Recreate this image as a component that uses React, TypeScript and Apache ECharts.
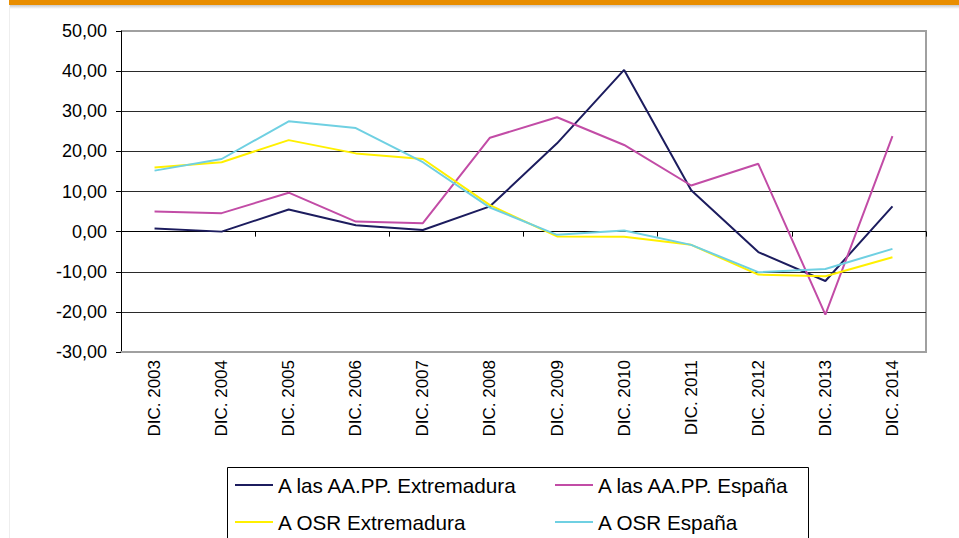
import React, { useEffect, useRef } from "react";
import * as echarts from "echarts";

const categories = [
  "DIC. 2003", "DIC. 2004", "DIC. 2005", "DIC. 2006", "DIC. 2007", "DIC. 2008",
  "DIC. 2009", "DIC. 2010", "DIC. 2011", "DIC. 2012", "DIC. 2013", "DIC. 2014",
];
const apExtremadura = [0.8, 0.0, 5.5, 1.6, 0.4, 6.3, 22.0, 40.3, 10.3, -5.1, -12.3, 6.3];
const apEspana = [5.0, 4.6, 9.7, 2.5, 2.1, 23.4, 28.5, 21.6, 11.5, 16.9, -20.7, 23.8];
const osrExtremadura = [16.0, 17.3, 22.8, 19.5, 18.1, 6.6, -1.2, -1.3, -3.3, -10.7, -11.1, -6.4];
const osrEspana = [15.2, 18.1, 27.5, 25.8, 17.3, 6.0, -0.8, 0.3, -3.3, -10.1, -9.3, -4.3];

const seriesNames = [
  "A las AA.PP. Extremadura",
  "A las AA.PP. España",
  "A OSR Extremadura",
  "A OSR España",
];
const seriesColors = ["#1c1c5e", "#c24ca6", "#fff000", "#6fd0e2"];
const seriesData = [apExtremadura, apEspana, osrExtremadura, osrEspana];

const FONT = "'Liberation Sans', Arial, sans-serif";

export default function App() {
  const ref = useRef<HTMLDivElement>(null);
  useEffect(() => {
    if (!ref.current) return;
    const chart = echarts.init(ref.current, null, { renderer: "svg" });
    const gridLeft = 121, gridTop = 31, gridRight = 33, gridBottom = 186;
    const W = 959, H = 538;
    const x0 = gridLeft, x1 = W - gridRight, y0 = gridTop, y1 = H - gridBottom;
    const splitColors = ["#a0a0a0", "#2a2a2a", "#2a2a2a", "#2a2a2a", "#2a2a2a", "#2a2a2a", "#2a2a2a", "#2a2a2a", "#a0a0a0"];
    const legendCommon = {
      orient: "vertical" as const,
      top: 474,
      itemGap: 15,
      itemWidth: 38,
      itemHeight: 2,
      icon: "rect",
      padding: 0,
      textStyle: { fontFamily: FONT, fontSize: 20.7, color: "#000", lineHeight: 22 },
    };
    chart.setOption({
      animation: false,
      backgroundColor: "#ffffff",
      grid: { left: gridLeft, top: gridTop, right: gridRight, bottom: gridBottom, containLabel: false },
      xAxis: [
        {
          type: "category",
          data: categories,
          position: "bottom",
          boundaryGap: true,
          axisLine: { show: true, onZero: false, lineStyle: { color: "#a0a0a0", width: 2 } },
          axisTick: { show: false },
          axisLabel: { rotate: 90, fontFamily: FONT, fontSize: 17, color: "#000", margin: 8 },
          splitLine: { show: false },
        },
        {
          type: "category",
          data: categories,
          position: "bottom",
          boundaryGap: true,
          axisLine: { show: true, onZero: true, onZeroAxisIndex: 0, lineStyle: { color: "#000", width: 1 } },
          axisTick: { show: true, length: 5, alignWithLabel: false, lineStyle: { color: "#000" } },
          axisLabel: { show: false },
          splitLine: { show: false },
        },
      ],
      yAxis: {
        type: "value",
        min: -30,
        max: 50,
        interval: 10,
        axisLine: { show: true, lineStyle: { color: "#000", width: 1 } },
        axisTick: { show: true, length: 5, lineStyle: { color: "#000" } },
        axisLabel: {
          fontFamily: FONT,
          fontSize: 18,
          color: "#000",
          margin: 14,
          formatter: (v: number) => v.toFixed(2).replace(".", ","),
        },
        splitLine: { show: true, lineStyle: { color: splitColors, width: 1 } },
      },
      legend: [
        { ...legendCommon, left: 235, data: [seriesNames[0], seriesNames[2]] },
        { ...legendCommon, left: 555, data: [seriesNames[1], seriesNames[3]] },
      ],
      graphic: [
        { type: "rect", shape: { x: 9, y: 0, width: 950, height: 5 }, style: { fill: "#e98e00" }, silent: true },
        {
          type: "rect",
          shape: { x: 9, y: 5, width: 950, height: 4 },
          style: {
            fill: new echarts.graphic.LinearGradient(0, 0, 0, 1, [
              { offset: 0, color: "#c9c9c9" },
              { offset: 1, color: "#ffffff" },
            ]),
          },
          silent: true,
        },
        { type: "line", shape: { x1: 9.5, y1: 5, x2: 9.5, y2: 538 }, style: { stroke: "#eeeeee", lineWidth: 1 }, silent: true },
        {
          type: "polyline",
          shape: { points: [[x0, y0], [x1, y0], [x1, y1], [x0, y1]] },
          style: { stroke: "#a0a0a0", lineWidth: 2, fill: "none" },
          silent: true,
          z: -1,
        },
        {
          type: "rect",
          shape: { x: 227.5, y: 467.5, width: 581, height: 100 },
          style: { stroke: "#000", lineWidth: 1, fill: "none" },
          silent: true,
        },
      ],
      series: seriesNames.map((name, i) => ({
        name,
        type: "line",
        xAxisIndex: 0,
        yAxisIndex: 0,
        data: seriesData[i],
        symbol: "none",
        showSymbol: false,
        color: seriesColors[i],
        lineStyle: { color: seriesColors[i], width: 2 },
        z: 3 + i,
      })),
    });
    return () => chart.dispose();
  }, []);
  return (
    <div
      ref={ref}
      style={{ position: "fixed", left: 0, top: 0, width: 959, height: 538, background: "#fff" }}
    />
  );
}
